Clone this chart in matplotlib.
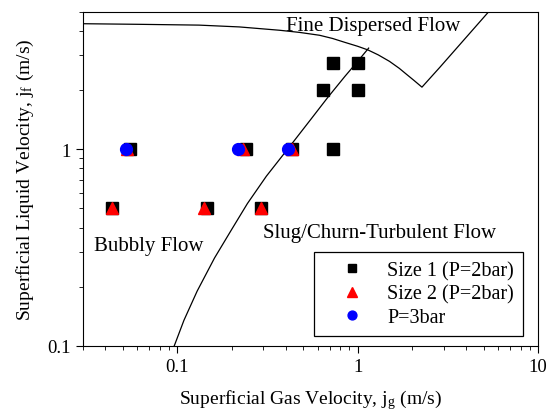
import matplotlib
matplotlib.use("Agg")
import matplotlib.pyplot as plt
from matplotlib.ticker import LogLocator, NullFormatter, FixedLocator, FixedFormatter

plt.rcParams["font.family"] = ["Liberation Serif", "DejaVu Serif"]
plt.rcParams["mathtext.fontset"] = "stix"

# measured points
size1_jg = [0.055, 0.242, 0.43, 0.726, 0.726, 1.0, 0.64, 1.01, 0.0435, 0.147, 0.293]
size1_jf = [1.0, 1.0, 1.0, 1.0, 2.75, 2.75, 2.0, 2.0, 0.5, 0.5, 0.5]
size2_jg = [0.053, 0.232, 0.43, 0.0435, 0.141, 0.293]
size2_jf = [1.0, 1.0, 1.0, 0.5, 0.5, 0.5]
p3_jg = [0.052, 0.218, 0.413]
p3_jf = [1.0, 1.0, 1.0]

# transition boundaries
disp_jg = [0.0304, 0.0615, 0.132, 0.221, 0.369, 0.476, 0.615, 0.726, 0.847, 1.0, 1.14,
           1.3, 1.5, 1.7, 1.87, 2.05, 2.27, 2.85, 5.27]
disp_jf = [4.35, 4.32, 4.28, 4.19, 4.03, 3.93, 3.80, 3.66, 3.50, 3.34, 3.20,
           3.02, 2.80, 2.58, 2.40, 2.24, 2.07, 2.61, 4.96]
slug_jg = [0.0963, 0.109, 0.129, 0.161, 0.2, 0.245, 0.312, 0.419, 0.55, 0.681, 0.85, 1.0, 1.15]
slug_jf = [0.1, 0.135, 0.19, 0.28, 0.39, 0.53, 0.73, 1.03, 1.42, 1.83, 2.35, 2.8, 3.27]

fig = plt.figure(figsize=(5.52, 4.14), dpi=100)
ax = fig.add_axes([0.150, 0.162, 0.825, 0.807])

ax.plot(disp_jg, disp_jf, color="black", linewidth=0.9)
ax.plot(slug_jg, slug_jf, color="black", linewidth=0.9)

ax.plot(size1_jg, size1_jf, "s", color="black", markersize=8, linestyle="none", label="Size 1 (P=2bar)")
ax.plot(size2_jg, size2_jf, "^", color="red", markersize=9, linestyle="none", label="Size 2 (P=2bar)")
ax.plot(p3_jg, p3_jf, "o", color="blue", markersize=8.5, linestyle="none", label="P=3bar")

ax.set_xscale("log")
ax.set_yscale("log")
ax.set_xlim(0.03, 10)
ax.set_ylim(0.1, 5)

ax.xaxis.set_major_locator(FixedLocator([0.1, 1, 10]))
ax.xaxis.set_major_formatter(FixedFormatter(["0.1", "1", "10"]))
ax.xaxis.set_minor_locator(LogLocator(base=10, subs=range(2, 10)))
ax.xaxis.set_minor_formatter(NullFormatter())
ax.yaxis.set_major_locator(FixedLocator([0.1, 1]))
ax.yaxis.set_major_formatter(FixedFormatter(["0.1", "1"]))
ax.yaxis.set_minor_locator(LogLocator(base=10, subs=range(2, 10)))
ax.yaxis.set_minor_formatter(NullFormatter())
ax.tick_params(which="major", direction="out", length=5, labelsize=13.5)
ax.tick_params(which="minor", direction="out", length=3)

ax.set_xlabel(r"Superficial Gas Velocity, j$_\mathregular{g}$ (m/s)", fontsize=14, labelpad=9)
ax.set_ylabel(r"Superficial Liquid Velocity, j$_\mathregular{f}$ (m/s)", fontsize=14, labelpad=8)

ax.text(0.403, 4.27, "Fine Dispersed Flow", fontsize=15, va="center", ha="left")
ax.text(0.0347, 0.325, "Bubbly Flow", fontsize=15, va="center", ha="left")
ax.text(0.30, 0.379, "Slug/Churn-Turbulent Flow", fontsize=15, va="center", ha="left")

leg = ax.legend(loc="lower right", bbox_to_anchor=(0.967, 0.030), borderaxespad=0,
                fontsize=14.5, fancybox=False, edgecolor="black", framealpha=1,
                markerscale=0.75, handlelength=2.9, handletextpad=0.3,
                borderpad=0.45, labelspacing=0.2)
leg.get_frame().set_linewidth(0.9)

fig.savefig("out.png", dpi=100)
